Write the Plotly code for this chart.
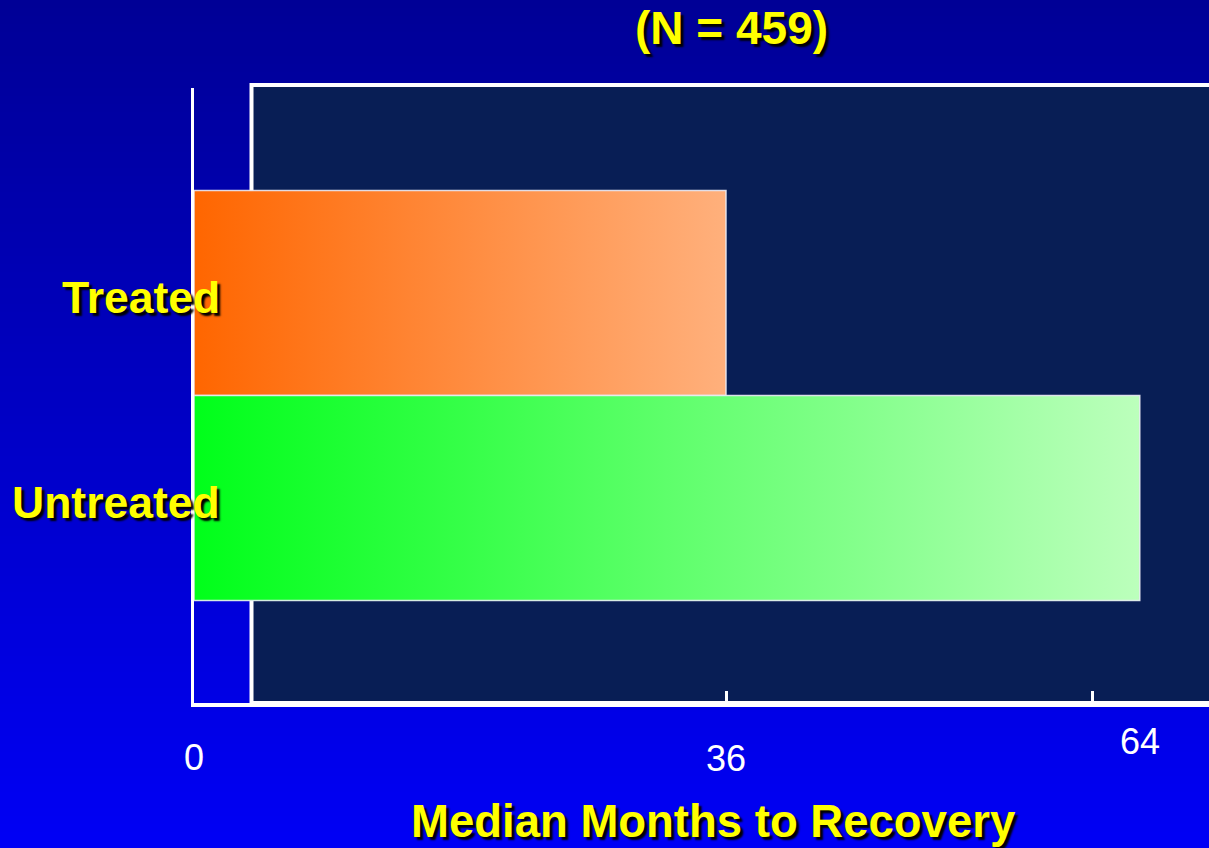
import plotly.graph_objects as go

# ---- data ----
CATEGORIES = ["Treated", "Untreated"]
VALUES = [36, 64]
TITLE = "(N = 459)"
X_TITLE = "Median Months to Recovery"
TICK_LABELS = ["0", "36", "64"]
TICK_LABEL_VALUES = [0, 36, 64]
TICK_MARK_VALUES = [36, 60.8]

# ---- style ----
W, H = 1209, 848
L, R, T, B = 194, 0, 88, 145
PW, PH = W - L - R, H - T - B
BAR_GRADIENTS = [["#ff6600", "#ffb07c"], ["#00ff1a", "#bcffbc"]]
YELLOW = "#ffff00"
NAVY = "#081e55"
FONT = "Liberation Sans, Arial, sans-serif"
SHADOW = "3px 3px 2px #000000"

def px_x(p):
    return (p - L) / PW

def px_y(p):
    return (H - B - p) / PH

fig = go.Figure()

# category positions: first category on top
positions = [len(CATEGORIES) - 1 - i for i in range(len(CATEGORIES))]

for cat, val, pos, grad in zip(CATEGORIES, VALUES, positions, BAR_GRADIENTS):
    fig.add_trace(go.Bar(
        x=[val], y=[pos], orientation="h", width=1, name=cat,
        marker=dict(color=grad[0], line=dict(width=0)),
        hovertemplate=f"{cat}: %{{x}}<extra></extra>", showlegend=False,
    ))
    fig.add_trace(go.Scatter(
        x=[0, val, val, 0, 0],
        y=[pos - 0.5, pos - 0.5, pos + 0.5, pos + 0.5, pos - 0.5],
        mode="lines", fill="toself",
        fillgradient=dict(type="horizontal", colorscale=[[0, grad[0]], [1, grad[1]]]),
        line=dict(color="rgba(235,235,245,0.9)", width=1.5),
        hoverinfo="skip", showlegend=False,
    ))

shapes = []
# background vertical gradient (stripes)
n = 106
top_rgb, bot_rgb = (0, 0, 150), (0, 0, 245)
for i in range(n):
    t = i / (n - 1)
    c = tuple(round(a + (b - a) * t) for a, b in zip(top_rgb, bot_rgb))
    y0p = H * i / n
    y1p = H * (i + 1) / n + 1
    shapes.append(dict(type="rect", xref="paper", yref="paper",
                       x0=px_x(-2), x1=px_x(W + 2), y0=px_y(y1p), y1=px_y(y0p),
                       fillcolor=f"rgb{c}", line=dict(width=0), layer="below"))
# navy framed panel
shapes.append(dict(type="rect", xref="paper", yref="paper",
                   x0=px_x(251.5), x1=px_x(W + 20), y0=0, y1=px_y(85),
                   fillcolor=NAVY, line=dict(color="white", width=4), layer="below"))
fig.update_layout(shapes=shapes)

annotations = []
annotations.append(dict(text=f"<b>{TITLE}</b>", xref="paper", yref="paper",
                        x=px_x(731), y=px_y(28), xanchor="center", yanchor="middle",
                        showarrow=False,
                        font=dict(family=FONT, size=46, color=YELLOW, shadow=SHADOW)))
annotations.append(dict(text=f"<b>{X_TITLE}</b>", xref="paper", yref="paper",
                        x=px_x(713), y=px_y(822), xanchor="center", yanchor="middle",
                        showarrow=False,
                        font=dict(family=FONT, size=45.5, color=YELLOW, shadow=SHADOW)))
for cat, pos in zip(CATEGORIES, positions):
    annotations.append(dict(text=f"<b>{cat}</b>", xref="paper", yref="y",
                            x=px_x(222), y=pos, xanchor="right", yanchor="middle",
                            yshift=-4, showarrow=False,
                            font=dict(family=FONT, size=44.5, color=YELLOW, shadow=SHADOW)))
label_y_px = {"0": 757, "36": 758, "64": 741}
for lab, v in zip(TICK_LABELS, TICK_LABEL_VALUES):
    annotations.append(dict(text=lab, xref="x", yref="paper", x=v,
                            y=px_y(label_y_px.get(lab, 757)),
                            xanchor="center", yanchor="middle", showarrow=False,
                            font=dict(family=FONT, size=36, color="white")))
fig.update_layout(annotations=annotations)

x_max = (W - L) / ((726 - 194) / 36)
fig.update_layout(
    width=W, height=H,
    margin=dict(l=L, r=R, t=T, b=B, pad=0),
    paper_bgcolor="#0000c0",
    plot_bgcolor="rgba(0,0,0,0)",
    barmode="overlay", bargap=0,
    xaxis=dict(range=[0, x_max], showgrid=False, zeroline=False,
               showline=True, linecolor="white", linewidth=4,
               ticks="inside", tickvals=TICK_MARK_VALUES, ticklen=12,
               tickwidth=3, tickcolor="white", showticklabels=False,
               fixedrange=True),
    yaxis=dict(range=[-1, 2], showgrid=False, zeroline=False,
               showline=True, linecolor="white", linewidth=3,
               showticklabels=False, ticks="", fixedrange=True),
    hovermode="closest",
)

fig.write_html("out.html", config={"displayModeBar": False},
               post_script="document.body.style.margin='0';document.body.style.overflow='hidden';")
